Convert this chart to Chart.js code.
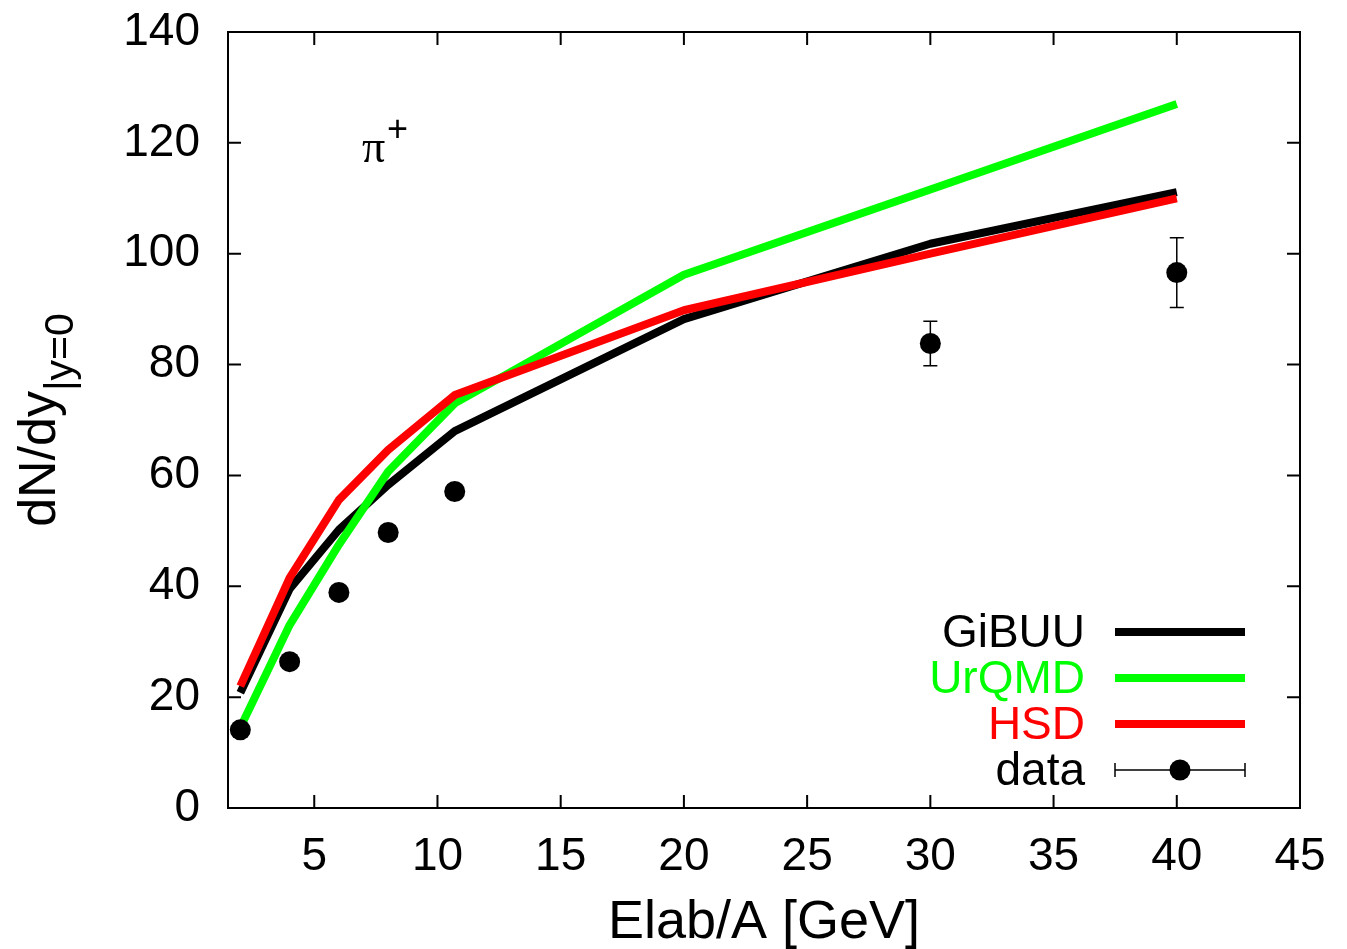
<!DOCTYPE html>
<html>
<head>
<meta charset="utf-8">
<script src="https://cdn.jsdelivr.net/npm/chart.js@4.4.1/dist/chart.umd.min.js"></script>
<style>
  html, body { margin: 0; padding: 0; background: #fff; }
  #wrap { width: 1347px; height: 949px; position: relative; }
</style>
</head>
<body>
<div id="wrap"><canvas id="myChart" width="1347" height="949"></canvas></div>
<script>
// energies (Elab/A in GeV) where the models are given
var energies = [2, 4, 6, 8, 10.7, 20, 30, 40];
var gibuu = [20.8, 39.5, 50.2, 58.3, 68.0, 88.2, 101.8, 111.1];
var urqmd = [14.5, 33.0, 47.5, 60.7, 73.0, 96.2, 111.6, 127.0];
var hsd   = [22.0, 41.5, 55.6, 64.6, 74.5, 89.8, 100.0, 110.0];

// measured points
var dataE   = [2, 4, 6, 8, 10.7, 30, 40];
var dataY   = [14.1, 26.4, 38.9, 49.7, 57.1, 83.8, 96.6];
var dataErr = [0, 0, 0, 0, 0, 4.0, 6.3];

var xTicks = [5, 10, 15, 20, 25, 30, 35, 40, 45];
var yTicks = [0, 20, 40, 60, 80, 100, 120, 140];

var legendItems = [
    {label: "GiBUU", color: "#000000"},
    {label: "UrQMD", color: "#00ff00"},
    {label: "HSD",   color: "#ff0000"},
    {label: "data",  color: "#000000"}
];

var FONT = "'Liberation Sans', Arial, sans-serif";

function pts(xs, ys) {
    return xs.map(function(x, i) { return {x: x, y: ys[i]}; });
}

var framePlugin = {
    id: "frame",
    afterDatasetsDraw: function(chart) {
        var ctx = chart.ctx;
        var a = chart.chartArea;
        var xs = chart.scales.x, ys = chart.scales.y;
        ctx.save();

        // error bars
        ctx.strokeStyle = "#000";
        ctx.lineWidth = 1.5;
        dataE.forEach(function(e, i) {
            if (!dataErr[i]) return;
            var px = xs.getPixelForValue(e);
            var top = ys.getPixelForValue(dataY[i] + dataErr[i]);
            var bot = ys.getPixelForValue(dataY[i] - dataErr[i]);
            ctx.beginPath();
            ctx.moveTo(px, top); ctx.lineTo(px, bot);
            ctx.moveTo(px - 7, top); ctx.lineTo(px + 7, top);
            ctx.moveTo(px - 7, bot); ctx.lineTo(px + 7, bot);
            ctx.stroke();
        });

        // frame and inner ticks
        ctx.lineWidth = 2;
        ctx.strokeRect(a.left, a.top, a.right - a.left, a.bottom - a.top);
        ctx.beginPath();
        xTicks.forEach(function(v) {
            var p = xs.getPixelForValue(v);
            ctx.moveTo(p, a.bottom); ctx.lineTo(p, a.bottom - 13);
            ctx.moveTo(p, a.top); ctx.lineTo(p, a.top + 13);
        });
        yTicks.forEach(function(v) {
            var p = ys.getPixelForValue(v);
            ctx.moveTo(a.left, p); ctx.lineTo(a.left + 13, p);
            ctx.moveTo(a.right, p); ctx.lineTo(a.right - 13, p);
        });
        ctx.stroke();

        // legend
        var ly = a.bottom - 176;
        legendItems.forEach(function(item, i) {
            var y = ly + i * 46;
            ctx.fillStyle = item.color;
            ctx.font = "46px " + FONT;
            ctx.textAlign = "right";
            ctx.textBaseline = "middle";
            ctx.fillText(item.label, 1085, y + 2);
            if (item.label === "data") {
                ctx.strokeStyle = "#000";
                ctx.lineWidth = 1.5;
                ctx.beginPath();
                ctx.moveTo(1115, y); ctx.lineTo(1245, y);
                ctx.moveTo(1115, y - 7); ctx.lineTo(1115, y + 7);
                ctx.moveTo(1245, y - 7); ctx.lineTo(1245, y + 7);
                ctx.stroke();
                ctx.beginPath();
                ctx.arc(1180, y, 10.5, 0, Math.PI * 2);
                ctx.fill();
            } else {
                ctx.strokeStyle = item.color;
                ctx.lineWidth = 8;
                ctx.beginPath();
                ctx.moveTo(1115, y); ctx.lineTo(1245, y);
                ctx.stroke();
            }
        });

        // pi+ label
        ctx.fillStyle = "#000";
        ctx.textAlign = "left";
        ctx.textBaseline = "alphabetic";
        ctx.font = "46px 'Liberation Serif', serif";
        ctx.fillText("\u03c0", 362, 162);
        ctx.font = "36px " + FONT;
        ctx.fillText("+", 387, 141);

        // axis titles
        ctx.font = "54px " + FONT;
        ctx.textAlign = "center";
        ctx.fillText("Elab/A [GeV]", (a.left + a.right) / 2, 938);

        ctx.translate(55, (a.top + a.bottom) / 2);
        ctx.rotate(-Math.PI / 2);
        ctx.font = "52px " + FONT;
        var w1 = ctx.measureText("dN/dy").width;
        ctx.font = "41px " + FONT;
        var w2 = ctx.measureText("|y=0").width;
        var x0 = -(w1 + w2) / 2;
        ctx.textAlign = "left";
        ctx.font = "52px " + FONT;
        ctx.fillText("dN/dy", x0, 0);
        ctx.font = "41px " + FONT;
        ctx.fillText("|y=0", x0 + w1, 18);
        ctx.restore();
    }
};

var lineStyle = function(label, color, ys) {
    return {
        label: label,
        data: pts(energies, ys),
        showLine: true,
        borderColor: color,
        backgroundColor: color,
        borderWidth: 8,
        pointRadius: 0,
        tension: 0,
        borderJoinStyle: "round"
    };
};

new Chart("myChart", {
    type: "scatter",
    data: {
        datasets: [
            {
                label: "data",
                data: pts(dataE, dataY),
                showLine: false,
                pointRadius: 10.5,
                pointHoverRadius: 10.5,
                backgroundColor: "#000",
                borderColor: "#000",
                borderWidth: 0
            },
            lineStyle("HSD", "#ff0000", hsd),
            lineStyle("UrQMD", "#00ff00", urqmd),
            lineStyle("GiBUU", "#000000", gibuu)
        ]
    },
    options: {
        responsive: false,
        animation: false,
        events: [],
        layout: { padding: { top: 32, right: 47, left: 0, bottom: 0 } },
        plugins: {
            legend: { display: false },
            tooltip: { enabled: false }
        },
        scales: {
            x: {
                type: "linear",
                min: 1.5,
                max: 45,
                afterBuildTicks: function(s) {
                    s.ticks = xTicks.map(function(v) { return {value: v}; });
                },
                afterFit: function(s) {
                    s.height = 141;
                    s.paddingLeft = 0;
                    s.paddingRight = 0;
                },
                grid: { display: false, drawTicks: false },
                border: { display: false },
                ticks: {
                    color: "#000",
                    padding: 22,
                    maxRotation: 0,
                    font: { family: FONT, size: 46 }
                }
            },
            y: {
                min: 0,
                max: 140,
                afterBuildTicks: function(s) {
                    s.ticks = yTicks.map(function(v) { return {value: v}; });
                },
                afterFit: function(s) {
                    s.width = 228;
                    s.paddingTop = 0;
                    s.paddingBottom = 0;
                },
                grid: { display: false, drawTicks: false },
                border: { display: false },
                ticks: {
                    color: "#000",
                    padding: 28,
                    font: { family: FONT, size: 46 }
                }
            }
        }
    },
    plugins: [framePlugin]
});
</script>
</body>
</html>
